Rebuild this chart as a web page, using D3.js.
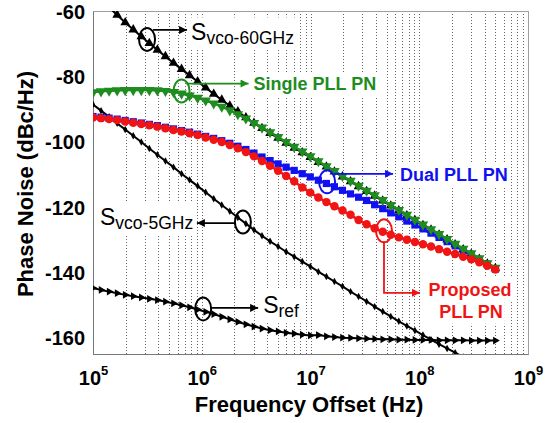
<!DOCTYPE html>
<html><head><meta charset="utf-8">
<script src="https://cdn.jsdelivr.net/npm/d3@7"></script>
<style>
body{margin:0;background:#fff}
svg{display:block}
text{font-family:"Liberation Sans",Arial,Helvetica,sans-serif}
</style>
</head><body>
<svg id="c" width="559" height="423"></svg>
<script>
// ---------------- data ----------------
// offset frequency exponents (Hz = 10^logF)
const logF = [5.000,5.074,5.148,5.222,5.296,5.370,5.444,5.518,5.592,5.666,
              5.740,5.814,5.888,5.962,6.036,6.110,6.184,6.258,6.332,6.406,
              6.480,6.554,6.628,6.702,6.776,6.850,6.924,6.998,7.072,7.146,
              7.220,7.294,7.368,7.442,7.516,7.590,7.664,7.738,7.812,7.886,
              7.960,8.034,8.108,8.182,8.256,8.330,8.404,8.478,8.552,8.626,8.700];

const sVco60 = [-54.3,-56.6,-58.9,-61.2,-63.5,-65.7,-67.8,-69.9,-71.9,-73.9,
                -75.9,-77.8,-79.7,-81.6,-83.5,-85.4,-87.2,-89.0,-90.8,-92.6,
                -94.3,-95.9,-97.4,-98.9,-100.4,-101.9,-103.3,-104.8,-106.3,-107.7,
                -109.2,-110.7,-112.2,-113.7,-115.2,-116.6,-118.1,-119.6,-121.1,-122.6,
                -124.1,-125.6,-127.0,-128.5,-130.0,-131.5,-133.0,-134.4,-135.9,-137.4,-138.8];

const singlePLL = [-84.9,-84.6,-84.4,-84.3,-84.2,-84.2,-84.2,-84.2,-84.3,-84.5,
                   -84.8,-85.3,-85.9,-86.6,-87.4,-88.3,-89.3,-90.4,-91.6,-92.9,
                   -94.3,-95.7,-97.1,-98.6,-100.1,-101.6,-103.0,-104.5,-106.0,-107.5,
                   -109.0,-110.5,-112.0,-113.5,-115.0,-116.4,-117.9,-119.4,-120.9,-122.4,
                   -123.9,-125.4,-126.8,-128.3,-129.8,-131.3,-132.8,-134.2,-135.7,-137.2,-138.6];

const dualPLL = [-92.3,-92.5,-92.8,-93.1,-93.5,-93.9,-94.3,-94.7,-95.1,-95.6,
                 -96.1,-96.6,-97.1,-97.7,-98.4,-99.0,-99.7,-100.5,-101.4,-102.4,
                 -103.5,-104.7,-105.8,-106.8,-107.8,-108.8,-109.8,-110.8,-111.8,-112.8,
                 -113.8,-114.9,-116.0,-117.0,-118.0,-119.3,-120.5,-121.8,-123.0,-124.3,
                 -125.5,-126.7,-128.0,-129.3,-130.6,-131.9,-133.3,-134.7,-136.1,-137.6,-139.0];

const proposedPLL = [-92.6,-92.8,-93.1,-93.4,-93.8,-94.2,-94.6,-95.0,-95.4,-95.9,
                     -96.4,-96.9,-97.4,-98.0,-98.7,-99.4,-100.1,-101.0,-102.0,-103.2,
                     -104.5,-105.9,-107.4,-108.9,-110.5,-112.1,-114.0,-115.6,-117.1,-118.5,
                     -119.8,-121.1,-122.4,-124.0,-125.3,-126.5,-127.6,-128.5,-129.3,-130.0,
                     -130.7,-131.4,-132.1,-132.9,-133.7,-134.4,-135.2,-136.0,-136.9,-138.0,-139.1];

const sVco5 = [-88.6,-90.5,-92.4,-94.4,-96.3,-98.2,-100.1,-102.1,-104.0,-105.9,
               -107.8,-109.8,-111.7,-113.6,-115.5,-117.5,-119.4,-121.3,-123.2,-125.1,
               -127.0,-128.8,-130.5,-132.1,-133.7,-135.2,-136.7,-138.2,-139.8,-141.3,
               -142.8,-144.3,-145.9,-147.4,-148.9,-150.5,-152.0,-153.5,-155.0,-156.4,
               -157.8,-159.2,-160.6,-162.0,-163.3,-164.6,-165.9];

const sRef = [-144.8,-145.4,-145.9,-146.4,-146.9,-147.3,-147.7,-148.1,-148.5,-149.0,
              -149.5,-150.1,-150.7,-151.4,-152.1,-152.8,-153.6,-154.4,-155.2,-155.9,
              -156.6,-157.2,-157.7,-158.1,-158.5,-158.8,-159.1,-159.3,-159.2,-159.6,
              -159.8,-160.0,-160.1,-160.2,-160.3,-160.4,-160.5,-160.5,-160.6,-160.6,
              -160.7,-160.7,-160.7,-160.8,-160.8,-160.8,-160.8,-160.9,-160.9,-160.9,-160.9];

const yTicks = [-60,-80,-100,-120,-140,-160];
const xTickExp = [5,6,7,8,9];

// ---------------- layout ----------------
const W = 559, H = 423;
const m = {left:93, right:528, top:11, bottom:354};
const FONT = '"Liberation Sans",Arial,Helvetica,sans-serif';
const GREEN = '#1e8c1e', BLUE = '#1010f0', RED = '#f01414';

const x = d3.scaleLog().domain([1e5,1e9]).range([m.left,m.right]);
const y = d3.scaleLinear().domain([-165,-60]).range([m.bottom,m.top]);

const svg = d3.select('#c');
svg.append('rect').attr('width',W).attr('height',H).attr('fill','#fff');

const defs = svg.append('defs');
defs.append('clipPath').attr('id','clip').append('rect')
  .attr('x',m.left).attr('y',m.top).attr('width',m.right-m.left).attr('height',m.bottom-m.top);
[['k','#000'],['g',GREEN],['b',BLUE],['r',RED]].forEach(([k,c])=>{
  defs.append('marker').attr('id','ah-'+k).attr('viewBox','0 0 10 10')
    .attr('refX',10).attr('refY',5).attr('markerWidth',10).attr('markerHeight',8)
    .attr('markerUnits','userSpaceOnUse').attr('orient','auto')
    .append('path').attr('d','M0,0 L10,5 L0,10 Z').attr('fill',c);
});

// ---------------- grid ----------------
const grid = svg.append('g');
grid.selectAll('line.v').data(x.ticks().filter(t=>t>1.01e5 && t<0.99e9)).join('line')
  .attr('class','v').attr('x1',d=>Math.round(x(d))+0.5).attr('x2',d=>Math.round(x(d))+0.5)
  .attr('y1',m.top).attr('y2',m.bottom)
  .attr('stroke','#666').attr('stroke-width',1).attr('stroke-dasharray','1,2');
grid.selectAll('line.h').data(yTicks.filter(t=>t>-60)).join('line')
  .attr('class','h').attr('y1',d=>Math.round(y(d))+0.5).attr('y2',d=>Math.round(y(d))+0.5)
  .attr('x1',m.left).attr('x2',m.right)
  .attr('stroke','#666').attr('stroke-width',1).attr('stroke-dasharray','1,2');

// white boxes behind labels (hide grid like the reference)
const boxLayer = svg.append('g');

// ---------------- frame & axes ----------------
svg.append('rect').attr('x',m.left+0.5).attr('y',m.top+0.5)
  .attr('width',m.right-m.left).attr('height',m.bottom-m.top)
  .attr('fill','none').attr('stroke','#a0a0a0').attr('stroke-width',1);

const yAxis = svg.append('g').attr('transform',`translate(${m.left},0)`)
  .call(d3.axisLeft(y).tickValues(yTicks).tickSize(0).tickPadding(8).tickFormat(d=>d));
yAxis.select('.domain').attr('stroke','#777');
yAxis.selectAll('text').attr('font-family',FONT).attr('font-weight','bold')
  .attr('font-size',20).attr('fill','#000').attr('dy','0.36em');

const xAxis = svg.append('g').attr('transform',`translate(0,${m.bottom})`)
  .call(d3.axisBottom(x).tickValues(xTickExp.map(e=>Math.pow(10,e))).tickSize(0).tickFormat(''));
xAxis.select('.domain').attr('stroke','#777');
xAxis.selectAll('.tick').each(function(d){
  const e = Math.round(Math.log10(d));
  const t = d3.select(this).append('text').attr('y',31).attr('x',0)
    .attr('text-anchor','middle').attr('fill','#000').attr('font-family',FONT)
    .attr('font-weight','bold');
  t.append('tspan').attr('font-size',20).text('10');
  t.append('tspan').attr('font-size',13).attr('dy',-10).text(e);
});

svg.append('text').attr('x',309).attr('y',412).attr('text-anchor','middle')
  .attr('font-family',FONT).attr('font-weight','bold').attr('font-size',22)
  .text('Frequency Offset (Hz)');
svg.append('text').attr('transform','translate(33,184) rotate(-90)').attr('text-anchor','middle')
  .attr('font-family',FONT).attr('font-weight','bold').attr('font-size',22)
  .text('Phase Noise (dBc/Hz)');

// ---------------- series ----------------
const plot = svg.append('g').attr('clip-path','url(#clip)');
const line = d3.line().x(d=>x(Math.pow(10,d[0]))).y(d=>y(d[1]));

function drawSeries(vals, color, sym, size, rot, lw){
  const pts = vals.map((v,i)=>[logF[i], v]);
  const g = plot.append('g');
  g.append('path').datum(pts).attr('d',line).attr('fill','none')
    .attr('stroke',color).attr('stroke-width',lw);
  g.selectAll('path.mk').data(pts).join('path').attr('class','mk')
    .attr('transform',d=>`translate(${x(Math.pow(10,d[0]))},${y(d[1])}) rotate(${rot})`)
    .attr('d',d3.symbol().type(sym).size(size)).attr('fill',color);
}

drawSeries(sRef, '#000', d3.symbolTriangle, 26, 90, 2);
drawSeries(sVco5, '#000', d3.symbolDiamond, 16, 0, 2);
drawSeries(sVco60, '#000', d3.symbolTriangle, 40, 0, 2);
drawSeries(dualPLL, BLUE, d3.symbolSquare, 52, 0, 2.5);
drawSeries(singlePLL, GREEN, d3.symbolTriangle, 48, 180, 2.5);
drawSeries(proposedPLL, RED, d3.symbolCircle, 56, 0, 2.5);

// ---------------- annotations ----------------
const ann = svg.append('g');
function ell(p, color){
  ann.append('ellipse').attr('cx',p[0]).attr('cy',p[1]).attr('rx',8).attr('ry',11.5)
    .attr('fill','none').attr('stroke',color).attr('stroke-width',2);
}
function arrow(pts, color, key){
  ann.append('path').attr('d',d3.line()(pts)).attr('fill','none')
    .attr('stroke',color).attr('stroke-width',1.8).attr('marker-end',`url(#ah-${key})`);
}
function box(textSel, pad){
  const b = textSel.node().getBBox();
  boxLayer.append('rect').attr('x',b.x-pad).attr('y',b.y-pad)
    .attr('width',b.width+2*pad).attr('height',b.height+2*pad).attr('fill','#fff');
}
function subLabel(px, py, main, sub, subDy){
  const t = ann.append('text').attr('x',px).attr('y',py).attr('fill','#000').attr('font-family',FONT);
  t.append('tspan').attr('font-size',23).text(main);
  t.append('tspan').attr('font-size',17.5).attr('dy',subDy).text(sub);
  box(t,2);
  return t;
}
function boldLabel(px, py, txt, color, anchor){
  const t = ann.append('text').attr('x',px).attr('y',py).attr('fill',color)
    .attr('font-family',FONT).attr('font-weight','bold').attr('font-size',18)
    .attr('text-anchor',anchor||'start').text(txt);
  box(t,2);
  return t;
}
const P = (f,v)=>[x(f),y(v)];

// S_vco-60GHz
const a60 = P(3.14e5,-68.7);
ell(a60,'#000');
arrow([[a60[0]+6,a60[1]-9.5],[a60[0]+40,a60[1]-9.5]],'#000','k');
subLabel(a60[0]+44, a60[1]+1, 'S', 'vco-60GHz', 3.5);

// Single PLL PN
const aS = P(6.52e5,-84.5);
ell(aS,GREEN);
arrow([[aS[0]+5,aS[1]-7.5],[aS[0]+67,aS[1]-7.5]],GREEN,'g');
boldLabel(aS[0]+72, aS[1]-1, 'Single PLL PN', GREEN);

// Dual PLL PN
const aD = P(1.42e7,-112.3);
ell(aD,BLUE);
arrow([[aD[0]+7,aD[1]-8],[aD[0]+66,aD[1]-8]],BLUE,'b');
boldLabel(aD[0]+73, aD[1]-1, 'Dual PLL PN', BLUE);

// S_vco-5GHz
const a5 = P(2.39e6,-124.6);
ell(a5,'#000');
arrow([[a5[0]-7,a5[1]+1],[a5[0]-46,a5[1]+1]],'#000','k');
subLabel(100, a5[1]+3, 'S', 'vco-5GHz', 3.5);

// S_ref
const aR = P(1.03e6,-151.2);
ell(aR,'#000');
arrow([[aR[0]+8,aR[1]-1],[aR[0]+55,aR[1]-1]],'#000','k');
subLabel(aR[0]+60, aR[1]+4, 'S', 'ref', 4);

// Proposed PLL PN
const aP = P(4.74e7,-127.3);
ell(aP,RED);
arrow([[aP[0],aP[1]+11],[aP[0],aP[1]+62],[aP[0]+36,aP[1]+62]],RED,'r');
boldLabel(470, aP[1]+65, 'Proposed', RED, 'middle');
boldLabel(471, aP[1]+87, 'PLL PN', RED, 'middle');
</script>
</body></html>
